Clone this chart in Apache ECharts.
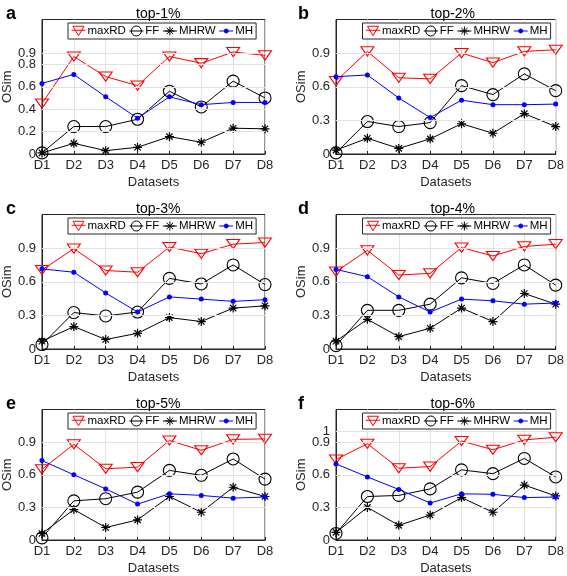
<!DOCTYPE html>
<html><head><meta charset="utf-8">
<script src="https://cdn.jsdelivr.net/npm/echarts@6/dist/echarts.min.js"></script>
<style>html,body{margin:0;padding:0;background:#fff}#c{width:567px;height:576px}</style>
</head><body><div id="c"></div>
<script>
const categories = ['D1','D2','D3','D4','D5','D6','D7','D8'];
const seriesNames = ['maxRD','FF','MHRW','MH'];
const panelTitles = ['top-1%','top-2%','top-3%','top-4%','top-5%','top-6%'];
const panelLetters = ['a','b','c','d','e','f'];
const yTicksA = [0,0.2,0.4,0.6,0.8,0.9];
const yTicksBE = [0,0.3,0.6,0.9];
const yTicksF = [0,0.3,0.6,0.9,1];

// top-1%
const maxRD1 = [0.45,0.87,0.69,0.61,0.87,0.81,0.91,0.88];
const FF1    = [0.01,0.245,0.245,0.31,0.56,0.42,0.65,0.50];
const MHRW1  = [0.01,0.095,0.03,0.06,0.155,0.105,0.23,0.225];
const MH1    = [0.63,0.71,0.51,0.32,0.51,0.44,0.46,0.46];
// top-2%
const maxRD2 = [0.65,0.915,0.68,0.67,0.90,0.815,0.915,0.93];
const FF2    = [0.01,0.29,0.245,0.28,0.61,0.53,0.715,0.565];
const MHRW2  = [0.035,0.14,0.05,0.135,0.27,0.185,0.36,0.245];
const MH2    = [0.69,0.705,0.50,0.325,0.48,0.44,0.44,0.445];
// top-3%
const maxRD3 = [0.705,0.895,0.70,0.685,0.91,0.85,0.935,0.95];
const FF3    = [0.04,0.325,0.295,0.33,0.63,0.58,0.75,0.575];
const MHRW3  = [0.07,0.20,0.085,0.14,0.28,0.245,0.365,0.385];
const MH3    = [0.715,0.685,0.50,0.33,0.465,0.445,0.425,0.44];
// top-4%
const maxRD4 = [0.69,0.88,0.66,0.675,0.905,0.83,0.915,0.935];
const FF4    = [0.03,0.345,0.345,0.40,0.635,0.585,0.75,0.57];
const MHRW4  = [0.07,0.265,0.11,0.185,0.365,0.245,0.495,0.40];
const MH4    = [0.71,0.645,0.465,0.33,0.445,0.43,0.40,0.41];
// top-5%
const maxRD5 = [0.65,0.88,0.655,0.67,0.915,0.825,0.925,0.93];
const FF5    = [0.02,0.36,0.38,0.44,0.64,0.595,0.745,0.56];
const MHRW5  = [0.06,0.28,0.115,0.185,0.40,0.255,0.485,0.40];
const MH5    = [0.73,0.60,0.47,0.33,0.425,0.41,0.385,0.395];
// top-6%
const maxRD6 = [0.74,0.885,0.66,0.675,0.91,0.83,0.92,0.945];
const FF6    = [0.06,0.40,0.41,0.47,0.645,0.61,0.75,0.58];
const MHRW6  = [0.07,0.30,0.135,0.23,0.39,0.255,0.505,0.405];
const MH6    = [0.70,0.58,0.465,0.34,0.425,0.42,0.39,0.395];

const panelData = [
  [maxRD1,FF1,MHRW1,MH1],[maxRD2,FF2,MHRW2,MH2],[maxRD3,FF3,MHRW3,MH3],
  [maxRD4,FF4,MHRW4,MH4],[maxRD5,FF5,MHRW5,MH5],[maxRD6,FF6,MHRW6,MH6]
];
const panelTicks = [yTicksA,yTicksBE,yTicksBE,yTicksBE,yTicksBE,yTicksF];

const FONT = "'Liberation Sans', Arial, Helvetica, sans-serif";
const TXT = '#262626';
const GRIDC = '#e2e2e2';
const colLeft = [41.5, 336];
const rowTop = [19.5, 214.5, 409.5];
const W = 223.5, H = 134.5;
const letterLeft = [1, 293];

const styles = [
  {symbol:'path://M0,0L12,0L6,10Z', symbolSize:[13,11], line:'#ff0000', fill:'rgba(255,255,255,0)', border:'#ff0000', bw:1.1,
   icon:'path://M0,4L14,4M1.5,0L12.5,0L7,9.5Z'},
  {symbol:'circle', symbolSize:12, line:'#000000', fill:'rgba(255,255,255,0)', border:'#000000', bw:1.1,
   icon:'path://M0,5L14,5M12,5A5,5 0 1,1 2,5A5,5 0 1,1 12,5Z'},
  {symbol:'path://M5,0L5,10M0,5L10,5M1.5,1.5L8.5,8.5M1.5,8.5L8.5,1.5', symbolSize:9, line:'#000000', fill:'rgba(0,0,0,0)', border:'#000000', bw:1.2,
   icon:'path://M0,5L14,5M7,0.5L7,9.5M2.5,5L11.5,5M3.8,1.8L10.2,8.2M3.8,8.2L10.2,1.8'},
  {symbol:'circle', symbolSize:5, line:'#0000ff', fill:'#0000ff', border:'#0000ff', bw:0,
   icon:'path://M0,5L14,5M9,5A2,2 0 1,1 5,5A2,2 0 1,1 9,5Z'}
];

function yAxisDef(p, vals, primary){
  return {type:'value', gridIndex:p, min:0, max:1.2, interval:0.1, position:'left',
    axisLine:{show:primary, lineStyle:{color:'#262626'}},
    axisTick:{show:true, inside:true, length:3, customValues:vals, lineStyle:{color:'#262626'}},
    axisLabel:{customValues:vals, fontFamily:FONT, fontSize:13, color:TXT, margin:6, hideOverlap:false,
      showMaxLabel:true, showMinLabel:true,
      formatter:function(v){return String(Math.round(v*10)/10);}},
    splitLine:{show:false},
    name: primary ? 'OSim' : '', nameLocation:'middle', nameGap:26,
    nameTextStyle:{fontFamily:FONT, fontSize:13, color:TXT}};
}

const grid=[], xAxis=[], yAxis=[], series=[], legend=[], title=[];
for (let p=0;p<6;p++){
  const r=Math.floor(p/2), c=p%2;
  const L=colLeft[c], T=rowTop[r];
  grid.push({left:L, top:T, width:W, height:H, show:true, borderColor:'#262626', borderWidth:1, backgroundColor:'transparent'});
  xAxis.push({type:'category', gridIndex:p, data:categories, boundaryGap:false,
    axisLine:{lineStyle:{color:'#262626'}}, axisTick:{inside:true, length:3, lineStyle:{color:'#262626'}},
    axisLabel:{fontFamily:FONT, fontSize:13, color:TXT, margin:5, hideOverlap:false},
    splitLine:{show:true, lineStyle:{color:GRIDC, width:1}},
    name:'Datasets', nameLocation:'middle', nameGap:22,
    nameTextStyle:{fontFamily:FONT, fontSize:13, color:TXT}});
  const ticks=panelTicks[p];
  yAxis.push(yAxisDef(p, ticks.slice(0,-1), true));
  yAxis.push(yAxisDef(p, ticks.slice(-1), false));
  const yi = p*2;
  series.push({type:'line', name:'grid'+p, xAxisIndex:p, yAxisIndex:yi, data:[], z:1, silent:true,
    markLine:{silent:true, symbol:'none', animation:false, label:{show:false},
      lineStyle:{color:GRIDC, width:1, type:'solid'},
      emphasis:{disabled:true},
      data:ticks.filter(v=>v>0).map(v=>({yAxis:v}))}});
  for (let s=0;s<4;s++){
    const st=styles[s];
    series.push({type:'line', name:seriesNames[s], xAxisIndex:p, yAxisIndex:yi, data:panelData[p][s],
      z:2+s, symbol:st.symbol, symbolSize:st.symbolSize, symbolKeepAspect:true, showAllSymbol:true,
      lineStyle:{color:st.line, width:1},
      itemStyle:{color:st.fill, borderColor:st.border, borderWidth:st.bw},
      emphasis:{disabled:true}, animation:false});
  }
  const legendData = seriesNames.map((n,s)=>({name:n, icon:styles[s].icon,
    itemStyle:{color:styles[s].fill, borderColor:styles[s].border, borderWidth:1}}));
  legend.push({data:legendData, left:L+26.5, top:T+3.5, orient:'horizontal',
    backgroundColor:'#fff', borderColor:'#262626', borderWidth:1, padding:[2,3],
    itemGap:3, itemWidth:14, itemHeight:10, selectedMode:false, symbolKeepAspect:true,
    textStyle:{fontFamily:FONT, fontSize:11.5, color:'#000', padding:[0,0,0,-3]}});
  title.push({text:panelTitles[p], left:L+W/2, textAlign:'center', top:T-17,
    textStyle:{fontFamily:FONT, fontSize:14, fontWeight:'normal', color:'#000'}});
  title.push({text:panelLetters[p], left:letterLeft[c], top:T-19,
    textStyle:{fontFamily:FONT, fontSize:18, fontWeight:'bold', color:'#000'}});
}

const chart = echarts.init(document.getElementById('c'), null, {renderer:'canvas'});
chart.setOption({animation:false, backgroundColor:'#fff', grid, xAxis, yAxis, series, legend, title});
</script></body></html>
